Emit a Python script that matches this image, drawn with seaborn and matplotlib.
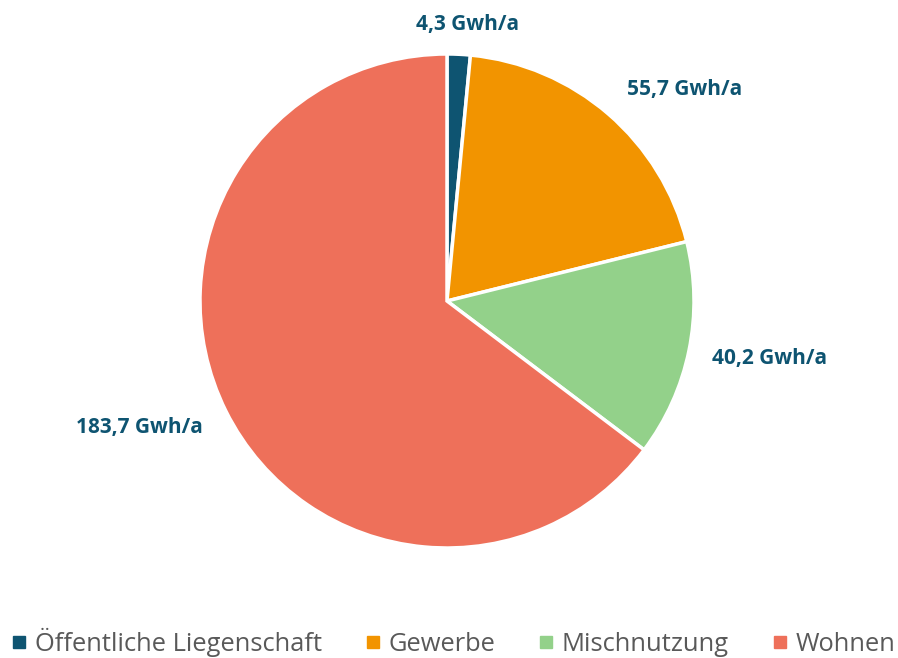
import matplotlib
matplotlib.use("Agg")
import matplotlib.pyplot as plt
import seaborn as sns
from matplotlib.lines import Line2D

sns.set_theme(style="white")
plt.rcParams['font.family'] = ['Open Sans', 'DejaVu Sans']

# data
categories = ["Öffentliche Liegenschaft", "Gewerbe", "Mischnutzung", "Wohnen"]
values = [4.3, 55.7, 40.2, 183.7]
value_labels = ["4,3 Gwh/a", "55,7 Gwh/a", "40,2 Gwh/a", "183,7 Gwh/a"]
colors = ["#0E5471", "#F29400", "#93D18A", "#EE705A"]
label_color = "#0E5471"

# label positions (radius units, relative to pie centre)
label_pos = [(0.085, 1.12), (0.964, 0.858), (1.304, -0.231), (-1.247, -0.514)]

W, H = 898, 658
fig = plt.figure(figsize=(W / 100, H / 100), dpi=100)
cx, cy, r = 447, 301, 247
ax = fig.add_axes([(cx - r) / W, (H - cy - r) / H, 2 * r / W, 2 * r / H])

wedges, _ = ax.pie(values, colors=colors, startangle=90, counterclock=False,
                   radius=1, wedgeprops=dict(edgecolor="white", linewidth=2.5))
ax.set_xlim(-1, 1)
ax.set_ylim(-1, 1)
ax.set_aspect("equal")
ax.axis("off")

for (x, y), txt in zip(label_pos, value_labels):
    ax.text(x, y, txt, ha="center", va="center", fontsize=15,
            fontweight="bold", color=label_color, clip_on=False)

handles = [Line2D([0], [0], marker="s", linestyle="none", markersize=9,
                  markerfacecolor=c, markeredgecolor=c) for c in colors]
leg = fig.legend(handles, categories, loc="center", bbox_to_anchor=(0.505, 1 - 642 / H),
                 ncol=4, frameon=False, fontsize=18.4, handlelength=0.6,
                 handletextpad=0.3, columnspacing=1.7)
for t in leg.get_texts():
    t.set_color("#595959")

fig.savefig("out.png", dpi=100)
